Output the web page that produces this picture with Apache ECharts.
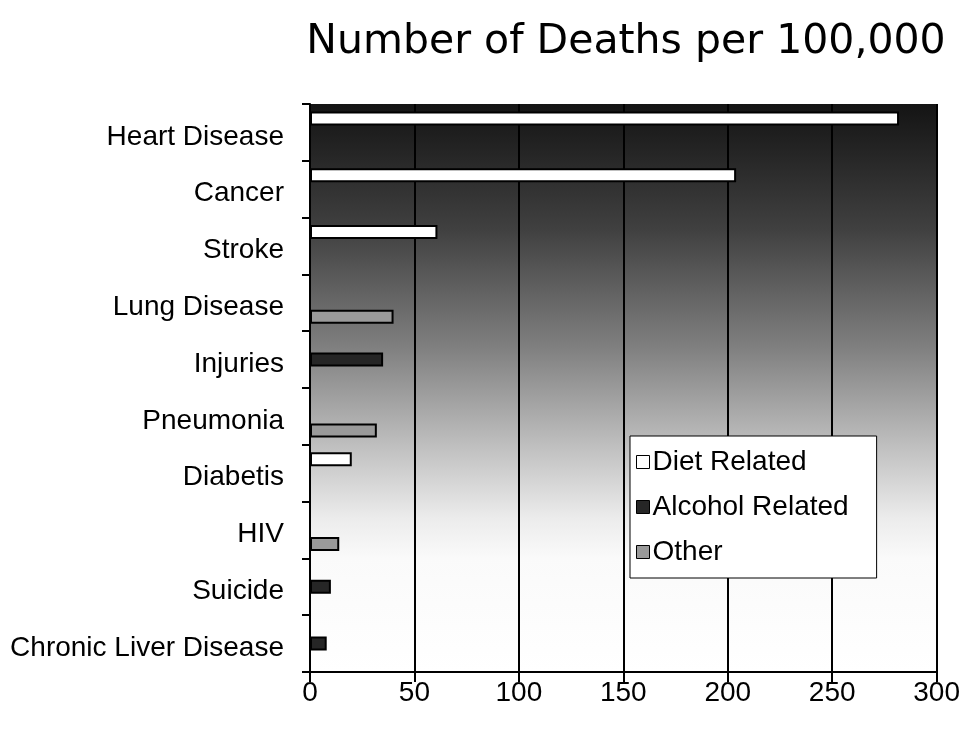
<!DOCTYPE html>
<html>
<head>
<meta charset="utf-8">
<script src="https://cdn.jsdelivr.net/npm/echarts@6/dist/echarts.min.js"></script>
<style>html,body{margin:0;padding:0;background:#fff;}#c{width:963px;height:731px;}</style>
</head>
<body>
<div id="c"></div>
<script>
const categories = ["Heart Disease","Cancer","Stroke","Lung Disease","Injuries","Pneumonia","Diabetis","HIV","Suicide","Chronic Liver Disease"];
const dietRelated    = [282, 204, 61, null, null, null, 20, null, null, null];
const alcoholRelated = [null, null, null, null, 35, null, null, null, 10, 8];
const otherCauses    = [null, null, null, 40, null, 32, null, 14, null, null];
const xTicks = {min: 0, max: 300, interval: 50};

const chart = echarts.init(document.getElementById('c'));
const barCommon = {type: 'bar', barGap: '0%', barCategoryGap: '26%'};
chart.setOption({
  animation: false,
  backgroundColor: '#fff',
  title: {
    text: 'Number of Deaths per 100,000',
    left: 621, top: 17, textAlign: 'center',
    textStyle: {fontFamily: 'DejaVu Sans', fontSize: 41, fontWeight: 'normal', color: '#000'}
  },
  legend: {
    orient: 'vertical',
    left: 630, top: 436,
    width: 246,
    backgroundColor: '#fff',
    borderColor: '#000', borderWidth: 1,
    padding: [12, 28, 12, 6],
    itemGap: 17,
    itemWidth: 13, itemHeight: 13,
    icon: 'rect',
    itemStyle: {borderWidth: 1, borderColor: '#000'},
    textStyle: {fontFamily: 'Liberation Sans', fontSize: 28, color: '#000', padding: [0, 0, 0, -2]},
    data: ['Diet Related', 'Alcohol Related', 'Other']
  },
  grid: {
    left: 310, right: 26, top: 104, bottom: 59,
    show: true,
    borderWidth: 0,
    backgroundColor: new echarts.graphic.LinearGradient(0, 0, 0, 1, [
      {offset: 0, color: '#141414'},
      {offset: 0.22, color: '#404040'},
      {offset: 0.43, color: '#808080'},
      {offset: 0.61, color: '#c2c2c2'},
      {offset: 0.73, color: '#ececec'},
      {offset: 0.8, color: '#fafafa'},
      {offset: 1, color: '#ffffff'}
    ])
  },
  xAxis: {
    type: 'value',
    min: xTicks.min, max: xTicks.max, interval: xTicks.interval,
    axisLine: {show: true, lineStyle: {color: '#000', width: 2}},
    axisTick: {show: true, length: 10, lineStyle: {color: '#000', width: 2}},
    splitLine: {show: true, lineStyle: {color: '#000', width: 2}},
    axisLabel: {fontFamily: 'Liberation Sans', fontSize: 28, color: '#000', margin: 7}
  },
  yAxis: {
    type: 'category',
    inverse: true,
    data: categories,
    axisLine: {show: true, lineStyle: {color: '#000', width: 2}},
    axisTick: {show: true, length: 8, lineStyle: {color: '#000', width: 2}},
    axisLabel: {fontFamily: 'Liberation Sans', fontSize: 28, color: '#000', margin: 26,
      verticalAlign: 'top', lineHeight: 9}
  },
  series: [
    Object.assign({name: 'Diet Related', data: dietRelated,
      itemStyle: {color: '#ffffff', borderColor: '#000', borderWidth: 2}}, barCommon),
    Object.assign({name: 'Alcohol Related', data: alcoholRelated,
      itemStyle: {color: '#262626', borderColor: '#000', borderWidth: 2}}, barCommon),
    Object.assign({name: 'Other', data: otherCauses,
      itemStyle: {color: '#9a9a9a', borderColor: '#000', borderWidth: 2}}, barCommon)
  ]
});
</script>
</body>
</html>
